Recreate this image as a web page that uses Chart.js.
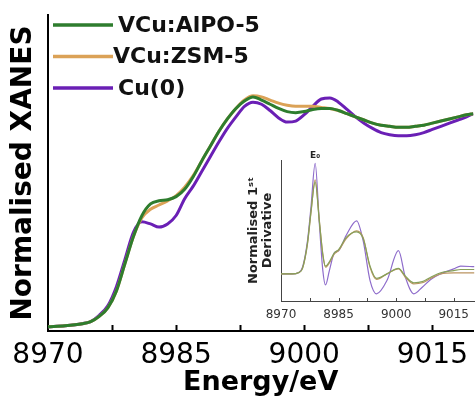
<!DOCTYPE html>
<html>
<head>
<meta charset="utf-8">
<script src="https://cdn.jsdelivr.net/npm/chart.js@4.4.1/dist/chart.umd.min.js"></script>
<style>
  html, body { margin: 0; padding: 0; background: #fff; }
  #wrap { position: relative; width: 476px; height: 399px; }
  #main { position: absolute; left: 0; top: 0; }
  #inset { position: absolute; left: 230px; top: 140px; }
</style>
</head>
<body>
<div id="wrap">
  <canvas id="main" width="476" height="399"></canvas>
  <canvas id="inset" width="246" height="190"></canvas>
</div>
<script>
// XANES spectra (main plot)
const energy = [8970, 8972, 8974, 8975, 8976, 8977, 8978, 8979, 8980, 8981, 8982, 8983, 8984, 8985,
  8986, 8987, 8988, 8989, 8990, 8991, 8992, 8993, 8994, 8995, 8996, 8997, 8998, 8999, 9000,
  9001, 9002, 9003, 9004, 9005, 9006, 9007, 9008, 9009, 9010, 9011, 9012, 9013, 9014, 9015,
  9016, 9017, 9018, 9019, 9019.8];
const xanesAlpo = [0, 0.005, 0.015, 0.025, 0.05, 0.09, 0.17, 0.30, 0.43, 0.53, 0.585, 0.60, 0.605, 0.62,
  0.655, 0.715, 0.79, 0.86, 0.93, 0.99, 1.04, 1.075, 1.095, 1.08, 1.06, 1.04, 1.025, 1.02, 1.025,
  1.035, 1.04, 1.04, 1.03, 1.015, 1.0, 0.985, 0.97, 0.96, 0.955, 0.95, 0.95, 0.955, 0.96, 0.97,
  0.98, 0.99, 1.0, 1.01, 1.015];
const xanesZsm = [0, 0.005, 0.015, 0.025, 0.05, 0.09, 0.17, 0.30, 0.43, 0.52, 0.56, 0.58, 0.60, 0.625,
  0.665, 0.72, 0.79, 0.86, 0.93, 0.99, 1.04, 1.08, 1.10, 1.095, 1.08, 1.065, 1.055, 1.05, 1.05,
  1.05, 1.045, 1.04, 1.03, 1.015, 1.0, 0.985, 0.97, 0.96, 0.955, 0.95, 0.95, 0.955, 0.96, 0.97,
  0.98, 0.99, 1.0, 1.01, 1.015];
const xanesCu = [0, 0.005, 0.015, 0.025, 0.055, 0.10, 0.19, 0.32, 0.45, 0.50, 0.49, 0.475, 0.49, 0.53,
  0.61, 0.67, 0.74, 0.81, 0.88, 0.945, 1.0, 1.05, 1.07, 1.06, 1.03, 0.995, 0.975, 0.98, 1.01,
  1.05, 1.085, 1.09, 1.07, 1.035, 1.0, 0.97, 0.945, 0.925, 0.915, 0.91, 0.91, 0.915, 0.925, 0.94,
  0.955, 0.97, 0.985, 1.0, 1.015];

// first derivative (inset)
const energyInset = [8970, 8973, 8974.5, 8975.6, 8976.9, 8977.8, 8978.9, 8980, 8980.9, 8981.6, 8982.6,
  8983.9, 8985, 8987, 8989.7, 8991.4, 8993.2, 8994.9, 8997.6, 9000.6, 9002.4, 9004.6, 9006.8,
  9009, 9011.6, 9015, 9016.8, 9020.4];
const derivAlpo = [0, 0, 0.01, 0.05, 0.28, 0.56, 0.83, 0.47, 0.17, 0.07, 0.11, 0.19, 0.22, 0.33, 0.38,
  0.32, 0.07, -0.04, 0.0, 0.05, -0.02, -0.08, -0.07, -0.03, 0.01, 0.03, 0.04, 0.04];
const derivZsm = [0, 0, 0.01, 0.05, 0.27, 0.55, 0.85, 0.48, 0.18, 0.06, 0.10, 0.18, 0.21, 0.32, 0.39,
  0.33, 0.06, -0.05, 0.0, 0.045, -0.03, -0.09, -0.08, -0.04, 0, 0.01, 0.01, 0.01];
const derivCu = [0, 0, 0.01, 0.06, 0.30, 0.60, 1.0, 0.45, 0.03, -0.10, 0.03, 0.19, 0.21, 0.35, 0.48,
  0.30, -0.06, -0.18, -0.06, 0.21, -0.03, -0.18, -0.12, -0.05, 0, 0.045, 0.07, 0.065];

const seriesNames = ["VCu:AlPO-5", "VCu:ZSM-5", "Cu(0)"];
const tickLabels = [8970, 8985, 9000, 9015];

const FONT = "'DejaVu Sans', sans-serif";

function pts(xs, ys) { return xs.map((x, i) => ({ x: x, y: ys[i] })); }

// inward tick marks every 7.5 eV, legend and E0 label
const decor = {
  id: "decor",
  afterDraw(chart, args, opts) {
    const ctx = chart.ctx;
    const xs = chart.scales.x, ys = chart.scales.y;
    ctx.save();
    ctx.strokeStyle = opts.tickColor;
    ctx.lineWidth = opts.tickWidth;
    xs.ticks.forEach(t => {
      const k = t.value / 7.5;
      if (Math.abs(k - Math.round(k)) > 1e-6 || t.value <= xs.min) return;
      const px = Math.round(xs.getPixelForValue(t.value)) + 0.5;
      ctx.beginPath();
      ctx.moveTo(px, ys.bottom);
      ctx.lineTo(px, ys.bottom - opts.tickLen);
      ctx.stroke();
    });
    if (opts.legend) {
      const L = opts.legend;
      chart.data.datasets.forEach((ds, i) => {
        const ly = L.y + i * L.gap;
        ctx.strokeStyle = ds.borderColor;
        ctx.lineWidth = L.lineWidth;
        ctx.beginPath();
        ctx.moveTo(L.x, ly);
        ctx.lineTo(L.x + L.len, ly);
        ctx.stroke();
        ctx.fillStyle = "#111";
        ctx.font = L.font;
        ctx.textBaseline = "middle";
        ctx.fillText(ds.label, L.x + L.len + L.textGap[i], ly + 1);
      });
    }
    if (opts.peakLabel) {
      const ds = chart.data.datasets[2].data;
      let best = ds[0];
      ds.forEach(p => { if (p.y > best.y) best = p; });
      ctx.fillStyle = "#222";
      ctx.font = opts.peakLabel.font;
      ctx.textAlign = "center";
      ctx.textBaseline = "bottom";
      ctx.fillText(opts.peakLabel.text, xs.getPixelForValue(best.x), ys.getPixelForValue(best.y) - 3);
    }
    ctx.restore();
  }
};

new Chart(document.getElementById("main"), {
  type: "line",
  data: {
    datasets: [
      { label: seriesNames[0], data: pts(energy, xanesAlpo), borderColor: "#2e7d2e", borderWidth: 3 },
      { label: seriesNames[1], data: pts(energy, xanesZsm), borderColor: "#dba257", borderWidth: 3 },
      { label: seriesNames[2], data: pts(energy, xanesCu), borderColor: "#6a1fb5", borderWidth: 3 }
    ]
  },
  options: {
    responsive: false,
    animation: false,
    devicePixelRatio: 1,
    layout: { padding: { top: 15, right: 0, left: 0, bottom: 0 } },
    elements: { point: { radius: 0 }, line: { cubicInterpolationMode: "monotone" } },
    plugins: {
      legend: { display: false },
      tooltip: { enabled: false },
      decor: {
        tickColor: "#000", tickWidth: 2, tickLen: 6,
        legend: { x: 53, y: 25, gap: 31.5, len: 60, lineWidth: 3.5, textGap: [5, 0, 5],
          font: "bold 22px " + FONT }
      }
    },
    scales: {
      x: {
        type: "linear", min: 8970, max: 9019.8,
        afterFit: s => { s.height = 68; },
        border: { display: true, color: "#000", width: 2 },
        grid: { display: true, drawOnChartArea: false, drawTicks: false },
        ticks: {
          stepSize: 7.5, includeBounds: false, autoSkip: false, maxRotation: 0, padding: 8,
          color: "#000", font: { family: FONT, size: 28 },
          callback: v => tickLabels.includes(v) ? String(v) : ""
        },
        title: { display: true, text: "Energy/eV", color: "#000",
          font: { family: FONT, size: 27, weight: "bold" }, padding: { top: 0, bottom: 0 } }
      },
      y: {
        min: -0.02, max: 1.485,
        afterFit: s => { s.width = 48; },
        border: { display: true, color: "#000", width: 2 },
        grid: { display: true, drawOnChartArea: false, drawTicks: false },
        ticks: { display: false },
        title: { display: true, text: "Normalised XANES", color: "#000",
          font: { family: FONT, size: 28, weight: "bold" }, padding: { top: 7, bottom: 0 } }
      }
    }
  },
  plugins: [decor]
});

new Chart(document.getElementById("inset"), {
  type: "line",
  data: {
    datasets: [
      { label: seriesNames[0], data: pts(energyInset, derivAlpo), borderColor: "#86a05a", borderWidth: 1.2 },
      { label: seriesNames[1], data: pts(energyInset, derivZsm), borderColor: "#bb9460", borderWidth: 1.2 },
      { label: seriesNames[2], data: pts(energyInset, derivCu), borderColor: "#8e6ccb", borderWidth: 1.2 }
    ]
  },
  options: {
    responsive: false,
    animation: false,
    devicePixelRatio: 1,
    layout: { padding: { top: 20, right: 0, left: 0, bottom: 0 } },
    elements: { point: { radius: 0 }, line: { cubicInterpolationMode: "monotone" } },
    plugins: {
      legend: { display: false },
      tooltip: { enabled: false },
      decor: {
        tickColor: "#444", tickWidth: 1, tickLen: 3,
        peakLabel: { text: "E\u2080", font: "bold 9px " + FONT }
      }
    },
    scales: {
      x: {
        type: "linear", min: 8970, max: 9020.4,
        afterFit: s => { s.height = 29; },
        border: { display: true, color: "#444", width: 1 },
        grid: { display: true, drawOnChartArea: false, drawTicks: false },
        ticks: {
          stepSize: 7.5, includeBounds: false, autoSkip: false, maxRotation: 0, padding: 7,
          color: "#333", font: { family: FONT, size: 12 },
          callback: v => tickLabels.includes(v) ? String(v) : ""
        }
      },
      y: {
        min: -0.245, max: 1.03,
        afterFit: s => { s.width = 51; },
        border: { display: true, color: "#444", width: 1 },
        grid: { display: true, drawOnChartArea: false, drawTicks: false },
        ticks: { display: false },
        title: { display: true, text: ["Normalised 1\u02E2\u1D57", "Derivative"], color: "#222",
          font: { family: FONT, size: 13, weight: "bold", lineHeight: 1.1 }, padding: { top: 16, bottom: 0 } }
      }
    }
  },
  plugins: [decor]
});
</script>
</body>
</html>
